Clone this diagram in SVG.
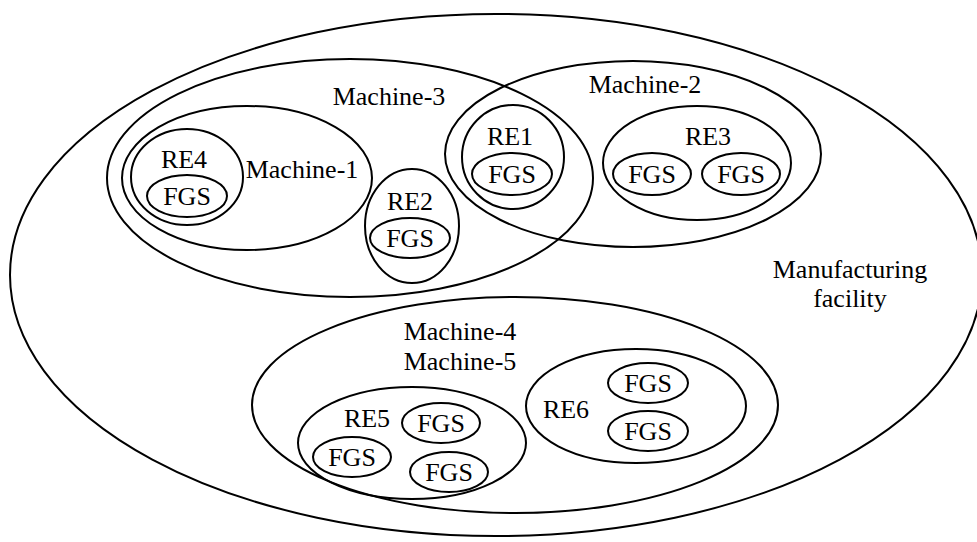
<svg xmlns="http://www.w3.org/2000/svg" width="977" height="542" viewBox="0 0 977 542" font-family="Liberation Serif, Times New Roman, DejaVu Serif, serif">
<style>
ellipse{fill:none;stroke:#000;stroke-width:2}
text{font-size:26px;fill:#000;text-anchor:middle}
</style>
<rect width="977" height="542" fill="#fff"/>
<g id="facility">
<ellipse cx="496" cy="275" rx="486" ry="261"/>
<text x="850" y="278" font-family="Liberation Serif, serif">Manufacturing</text>
<text x="850" y="307">facility</text>
</g>
<g id="machine-3">
<ellipse cx="350" cy="178" rx="243" ry="119"/>
<text x="389" y="105">Machine-3</text>
</g>
<g id="machine-2">
<ellipse cx="633" cy="154" rx="188" ry="93"/>
<text x="645" y="93">Machine-2</text>
</g>
<g id="machine-1">
<ellipse cx="247" cy="178" rx="125" ry="72"/>
<text x="302" y="178">Machine-1</text>
</g>
<g id="re4">
<ellipse cx="187" cy="177" rx="56" ry="48"/>
<text x="184" y="168">RE4</text>
<ellipse cx="187" cy="196" rx="40" ry="21"/>
<text x="187" y="205">FGS</text>
</g>
<g id="re2">
<ellipse cx="412" cy="226" rx="47" ry="57"/>
<text x="410" y="210">RE2</text>
<ellipse cx="410" cy="238" rx="40" ry="20"/>
<text x="410" y="247">FGS</text>
</g>
<g id="re1">
<ellipse cx="513" cy="157" rx="51" ry="52"/>
<text x="510" y="145">RE1</text>
<ellipse cx="512" cy="174" rx="40" ry="21"/>
<text x="512" y="183">FGS</text>
</g>
<g id="re3">
<ellipse cx="697" cy="163" rx="94" ry="57"/>
<text x="708" y="145">RE3</text>
<ellipse cx="652" cy="174" rx="39" ry="21"/>
<text x="652" y="183">FGS</text>
<ellipse cx="741" cy="174" rx="39" ry="21"/>
<text x="741" y="183">FGS</text>
</g>
<g id="machine-4-5">
<ellipse cx="515" cy="405" rx="263" ry="108"/>
<text x="460" y="340">Machine-4</text>
<text x="460" y="370">Machine-5</text>
</g>
<g id="re5">
<ellipse cx="412" cy="443" rx="114" ry="56"/>
<text x="367" y="427">RE5</text>
<ellipse cx="441" cy="423" rx="39" ry="20"/>
<text x="441" y="432">FGS</text>
<ellipse cx="352" cy="457" rx="39" ry="20"/>
<text x="352" y="466">FGS</text>
<ellipse cx="449" cy="472" rx="39" ry="20"/>
<text x="449" y="481">FGS</text>
</g>
<g id="re6">
<ellipse cx="636" cy="406" rx="110" ry="57"/>
<text x="566" y="418">RE6</text>
<ellipse cx="648" cy="383" rx="40" ry="20"/>
<text x="648" y="392">FGS</text>
<ellipse cx="648" cy="431" rx="40" ry="20"/>
<text x="648" y="440">FGS</text>
</g>
<g id="connectors"></g>
</svg>
